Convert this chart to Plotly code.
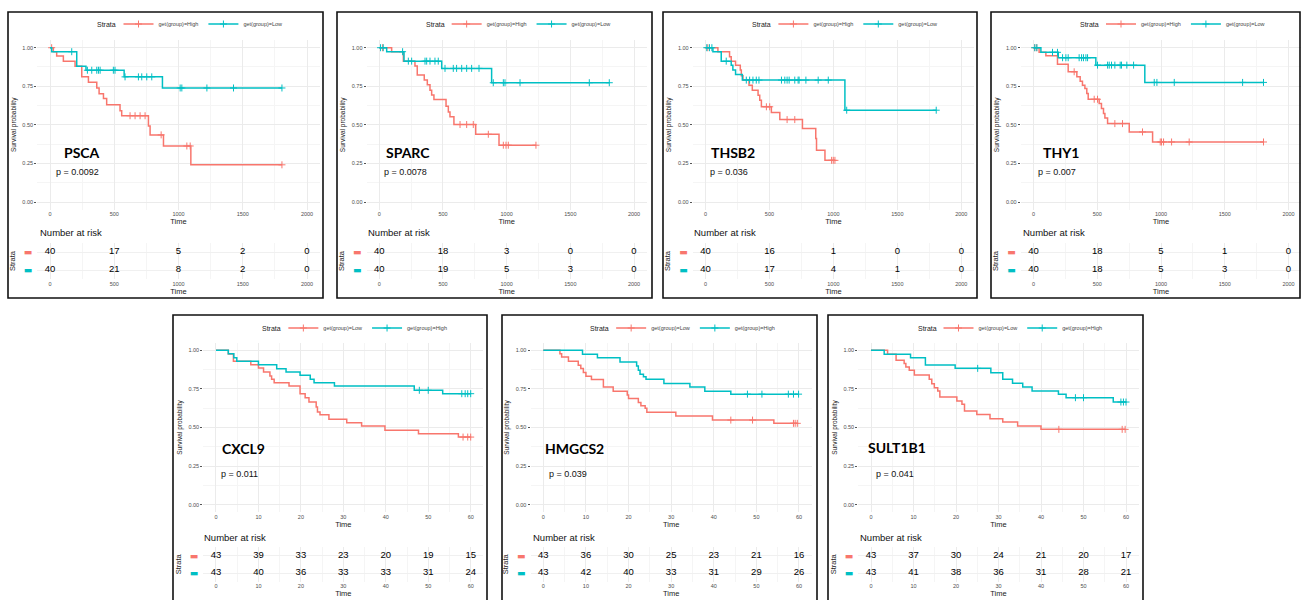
import plotly.graph_objects as go

W, H = 1302, 600
RED, CYAN = "#F8766D", "#00BFC4"
TXT = "#4D4D4D"
FONT = "Liberation Sans"

# ---------------- data ----------------
# top row: time in days, red = get(group)=High, cyan = get(group)=Low
days_ticks = [0, 500, 1000, 1500, 2000]
month_ticks = [0, 10, 20, 30, 40, 50, 60]

psca_high_t = [26, 52, 104, 195, 247, 299, 364, 382, 416, 441, 545, 558, 766, 779, 883, 1096]
psca_high_s = [0.974, 0.946, 0.913, 0.880, 0.811, 0.776, 0.739, 0.702, 0.670, 0.630, 0.591, 0.559, 0.493, 0.435, 0.363, 0.241]
psca_high_c = [13, 623, 662, 701, 740, 865, 1065, 1091, 1805]
psca_low_t = [13, 208, 280, 577, 875]
psca_low_s = [0.974, 0.880, 0.854, 0.811, 0.739]
psca_low_c = [169, 291, 325, 364, 377, 390, 493, 506, 584, 688, 714, 753, 792, 1013, 1026, 1221, 1428, 1805]
psca_risk_high = [40, 17, 5, 2, 0]
psca_risk_low = [40, 21, 8, 2, 0]

sparc_high_t = [97, 189, 280, 298, 353, 377, 398, 411, 429, 524, 542, 555, 586, 757, 940]
sparc_high_s = [0.974, 0.913, 0.881, 0.823, 0.790, 0.760, 0.725, 0.693, 0.665, 0.621, 0.584, 0.552, 0.502, 0.439, 0.368]
sparc_high_c = [26, 634, 686, 738, 856, 974, 995, 1013, 1230]
sparc_low_t = [58, 194, 490, 882]
sparc_low_s = [0.974, 0.913, 0.866, 0.773]
sparc_low_c = [10, 31, 183, 228, 254, 359, 372, 398, 437, 463, 516, 581, 607, 647, 686, 725, 783, 895, 974, 987, 1105, 1649, 1806]
sparc_risk_high = [40, 18, 3, 0, 0]
sparc_risk_low = [40, 19, 5, 3, 0]

thsb2_high_t = [97, 188, 201, 235, 272, 280, 293, 340, 366, 411, 424, 437, 515, 581, 758, 862, 868, 934]
thsb2_high_s = [0.974, 0.942, 0.913, 0.887, 0.855, 0.818, 0.790, 0.757, 0.725, 0.692, 0.660, 0.617, 0.580, 0.534, 0.476, 0.411, 0.335, 0.270]
thsb2_high_c = [18, 476, 502, 638, 698, 986, 999, 1012]
thsb2_low_t = [58, 123, 201, 214, 235, 288, 1090]
thsb2_low_s = [0.974, 0.913, 0.887, 0.855, 0.827, 0.790, 0.595]
thsb2_low_c = [10, 31, 50, 162, 319, 345, 371, 397, 418, 594, 620, 638, 654, 698, 724, 732, 785, 881, 960, 1104, 1804]
thsb2_risk_high = [40, 16, 1, 0, 0]
thsb2_risk_low = [40, 17, 4, 1, 0]

thy1_high_t = [44, 97, 188, 272, 340, 366, 384, 403, 418, 429, 515, 533, 549, 560, 581, 751, 934]
thy1_high_s = [0.970, 0.948, 0.892, 0.844, 0.812, 0.783, 0.757, 0.736, 0.703, 0.666, 0.638, 0.606, 0.573, 0.545, 0.508, 0.454, 0.389]
thy1_high_c = [10, 26, 319, 476, 502, 638, 698, 855, 994, 1004, 1020, 1083, 1221, 1804]
thy1_low_t = [58, 194, 489, 873]
thy1_low_s = [0.970, 0.935, 0.887, 0.775]
thy1_low_c = [10, 26, 149, 188, 228, 254, 272, 358, 377, 392, 411, 424, 502, 581, 594, 612, 638, 680, 690, 732, 785, 947, 968, 1104, 1640, 1804]
thy1_risk_high = [40, 18, 5, 1, 0]
thy1_risk_low = [40, 18, 5, 3, 0]

# bottom row: time in months, red = get(group)=Low, cyan = get(group)=High
cxcl9_low_t = [2.9, 4.1, 8.2, 10.0, 11.2, 12.7, 13.1, 13.7, 17.2, 19.8, 21.0, 21.9, 23.6, 23.9, 24.5, 26.6, 30.8, 34.3, 39.8, 47.7, 57.1]
cxcl9_low_s = [0.976, 0.929, 0.907, 0.886, 0.860, 0.834, 0.812, 0.790, 0.769, 0.719, 0.693, 0.665, 0.633, 0.600, 0.583, 0.553, 0.531, 0.510, 0.482, 0.460, 0.438]
cxcl9_low_c = [58.2, 59.3, 60.0]
cxcl9_high_t = [2.9, 4.2, 4.9, 10.0, 14.3, 16.5, 19.8, 22.2, 23.1, 27.9, 46.7, 53.4]
cxcl9_high_s = [0.977, 0.951, 0.929, 0.907, 0.881, 0.860, 0.838, 0.812, 0.790, 0.769, 0.741, 0.719]
cxcl9_high_c = [47.9, 50.0, 57.9, 58.7, 59.3, 60.0]
cxcl9_risk_low = [43, 39, 33, 23, 20, 19, 15]
cxcl9_risk_high = [43, 40, 36, 33, 33, 31, 24]

hmgcs2_low_t = [3.9, 4.3, 5.9, 8.2, 8.8, 9.4, 10.0, 11.3, 14.1, 16.4, 19.7, 20.0, 22.3, 22.9, 23.9, 24.3, 31.1, 39.7, 54.1]
hmgcs2_low_s = [0.978, 0.957, 0.929, 0.903, 0.882, 0.856, 0.832, 0.811, 0.763, 0.735, 0.710, 0.688, 0.662, 0.641, 0.624, 0.598, 0.574, 0.548, 0.527]
hmgcs2_low_c = [44.0, 49.1, 58.7, 59.1, 59.6]
hmgcs2_high_t = [9.2, 12.7, 18.0, 21.9, 22.3, 22.7, 23.5, 24.1, 28.3, 34.4, 37.9, 44.0]
hmgcs2_high_s = [0.974, 0.951, 0.925, 0.899, 0.871, 0.845, 0.828, 0.813, 0.785, 0.763, 0.735, 0.716]
hmgcs2_high_c = [47.9, 51.3, 57.5, 58.7, 59.9]
hmgcs2_risk_low = [43, 36, 30, 25, 23, 21, 16]
hmgcs2_risk_high = [43, 42, 40, 33, 31, 29, 26]

sult1b1_low_t = [3.9, 5.9, 7.8, 8.2, 9.0, 10.2, 13.7, 14.3, 14.9, 15.7, 16.2, 20.2, 21.4, 22.0, 24.9, 28.0, 31.0, 34.5, 40.0]
sult1b1_low_s = [0.974, 0.935, 0.914, 0.892, 0.870, 0.840, 0.812, 0.784, 0.758, 0.736, 0.698, 0.672, 0.650, 0.607, 0.585, 0.557, 0.536, 0.510, 0.488]
sult1b1_low_c = [44.2, 59.1, 59.8]
sult1b1_high_t = [3.1, 9.3, 12.8, 19.8, 28.2, 31.0, 33.3, 35.7, 37.9, 44.1, 45.9, 57.0]
sult1b1_high_s = [0.974, 0.952, 0.905, 0.883, 0.855, 0.812, 0.786, 0.762, 0.736, 0.715, 0.693, 0.665]
sult1b1_high_c = [25.1, 48.1, 50.0, 58.8, 59.4, 60.0]
sult1b1_risk_low = [43, 37, 30, 24, 21, 20, 17]
sult1b1_risk_high = [43, 41, 38, 36, 31, 28, 21]

# ---------------- panel definitions (data + layout geometry in px) ----------------
TOP = dict(ticks=days_ticks, minor=250, ytop=47.7, ybot=202.0, rows=(252.0, 270.0), leg_y=24, nar_y=233)
BOT = dict(ticks=month_ticks, minor=5, ytop=350.3, ybot=504.7, rows=(555.5, 573.0), leg_y=328, nar_y=537)

panels = [
    dict(gene="PSCA", p="p = 0.0092", row=TOP,
         red=("get(group)=High", psca_high_t, psca_high_s, psca_high_c, psca_risk_high),
         cyan=("get(group)=Low", psca_low_t, psca_low_s, psca_low_c, psca_risk_low),
         box=(8, 12, 323, 298), xpx=(50.0, 307.0), nar_x=38, gl=(82, 152), pl=(77, 172)),
    dict(gene="SPARC", p="p = 0.0078", row=TOP,
         red=("get(group)=High", sparc_high_t, sparc_high_s, sparc_high_c, sparc_risk_high),
         cyan=("get(group)=Low", sparc_low_t, sparc_low_s, sparc_low_c, sparc_risk_low),
         box=(337, 12, 652, 298), xpx=(379.3, 634.0), nar_x=366, gl=(408, 152), pl=(405, 172)),
    dict(gene="THSB2", p="p = 0.036", row=TOP,
         red=("get(group)=High", thsb2_high_t, thsb2_high_s, thsb2_high_c, thsb2_risk_high),
         cyan=("get(group)=Low", thsb2_low_t, thsb2_low_s, thsb2_low_c, thsb2_risk_low),
         box=(663, 12, 977, 298), xpx=(705.5, 961.3), nar_x=692, gl=(733, 152), pl=(729, 172)),
    dict(gene="THY1", p="p = 0.007", row=TOP,
         red=("get(group)=High", thy1_high_t, thy1_high_s, thy1_high_c, thy1_risk_high),
         cyan=("get(group)=Low", thy1_low_t, thy1_low_s, thy1_low_c, thy1_risk_low),
         box=(991, 12, 1300, 298), xpx=(1033.5, 1288.5), nar_x=1021, gl=(1061, 152), pl=(1057, 172)),
    dict(gene="CXCL9", p="p = 0.011", row=BOT,
         red=("get(group)=Low", cxcl9_low_t, cxcl9_low_s, cxcl9_low_c, cxcl9_risk_low),
         cyan=("get(group)=High", cxcl9_high_t, cxcl9_high_s, cxcl9_high_c, cxcl9_risk_high),
         box=(173, 315, 487, 606), xpx=(216.0, 470.7), nar_x=202, gl=(243, 448), pl=(239, 474)),
    dict(gene="HMGCS2", p="p = 0.039", row=BOT,
         red=("get(group)=Low", hmgcs2_low_t, hmgcs2_low_s, hmgcs2_low_c, hmgcs2_risk_low),
         cyan=("get(group)=High", hmgcs2_high_t, hmgcs2_high_s, hmgcs2_high_c, hmgcs2_risk_high),
         box=(502, 315, 817, 606), xpx=(543.3, 799.0), nar_x=531, gl=(574, 448), pl=(568, 474)),
    dict(gene="SULT1B1", p="p = 0.041", row=BOT,
         red=("get(group)=Low", sult1b1_low_t, sult1b1_low_s, sult1b1_low_c, sult1b1_risk_low),
         cyan=("get(group)=High", sult1b1_high_t, sult1b1_high_s, sult1b1_high_c, sult1b1_risk_high),
         box=(828, 315, 1143, 606), xpx=(871.0, 1126.0), nar_x=858, gl=(897, 447), pl=(895, 474)),
]


def fx(px):
    return px / W


def fy(py):
    return 1 - py / H


def step_level(times, surv, t):
    level = 1.0
    for ti, si in zip(times, surv):
        if ti <= t:
            level = si
    return level


fig = go.Figure()
layout = dict(shapes=[], annotations=[])

for i, pn in enumerate(panels):
    row = pn["row"]
    ticks = row["ticks"]
    xmax = ticks[-1]
    k_km, k_rk = 2 * i + 1, 2 * i + 2
    xa_km = "x" if k_km == 1 else f"x{k_km}"
    ya_km = "y" if k_km == 1 else f"y{k_km}"
    xa_rk, ya_rk = f"x{k_rk}", f"y{k_rk}"
    leg = "legend" if i == 0 else f"legend{i + 1}"

    x0px, x1px = pn["xpx"]
    pad = 0.05 * (x1px - x0px)
    xdom = [fx(x0px - pad), fx(x1px + pad)]
    xrange = [-0.05 * xmax, 1.05 * xmax]
    ypad = 0.05 * (row["ybot"] - row["ytop"])
    ydom = [fy(row["ybot"] + ypad), fy(row["ytop"] - ypad)]
    r1, r2 = row["rows"]
    gap = r2 - r1
    rdom = [fy(r2 + gap / 2), fy(r1 - gap / 2)]

    for key, col, ylev in (("red", RED, 2), ("cyan", CYAN, 1)):
        name, t, s, c, risk = pn[key]
        end = max(t + c)
        fig.add_trace(go.Scatter(
            x=[0] + t + [end], y=[1.0] + s + [s[-1]], mode="lines",
            line=dict(color=col, width=1.5, shape="hv"),
            xaxis=xa_km, yaxis=ya_km, showlegend=False, hoverinfo="skip"))
        fig.add_trace(go.Scatter(
            x=c, y=[step_level(t, s, ci) for ci in c], mode="markers",
            marker=dict(symbol="cross-thin", size=5, line=dict(color=col, width=1.0)),
            xaxis=xa_km, yaxis=ya_km, showlegend=False, hoverinfo="skip"))
        # legend entry
        fig.add_trace(go.Scatter(
            x=[None], y=[None], mode="lines+markers", name=name,
            line=dict(color=col, width=1.5),
            marker=dict(symbol="cross-thin", size=5, line=dict(color=col, width=1.0)),
            xaxis=xa_km, yaxis=ya_km, legend=leg, showlegend=True))
        # risk table numbers
        fig.add_trace(go.Scatter(
            x=ticks, y=[ylev] * len(ticks), mode="text", text=[str(v) for v in risk],
            textfont=dict(size=9.5, color="#000000", family=FONT),
            xaxis=xa_rk, yaxis=ya_rk, showlegend=False, hoverinfo="skip"))

    xcommon = dict(range=xrange, domain=xdom, tickvals=ticks, showgrid=True,
                   gridcolor="#EBEBEB", gridwidth=0.8, zeroline=False, ticks="",
                   tickfont=dict(size=5.5, color=TXT, family=FONT),
                   minor=dict(dtick=row["minor"], tick0=0, showgrid=True, gridcolor="#F5F5F5", gridwidth=0.6),
                   title=dict(text="Time", font=dict(size=7.5, color="#222222", family=FONT), standoff=1))
    layout["xaxis" if k_km == 1 else f"xaxis{k_km}"] = dict(anchor=ya_km, **xcommon)
    layout[f"xaxis{k_rk}"] = dict(anchor=ya_rk, **xcommon)
    layout["yaxis" if k_km == 1 else f"yaxis{k_km}"] = dict(
        anchor=xa_km, domain=ydom, range=[-0.05, 1.05], tickvals=[0, 0.25, 0.5, 0.75, 1.0],
        tickformat=".2f", ticks="outside", ticklen=2, tickcolor="#555555", tickwidth=0.8,
        tickfont=dict(size=5.5, color=TXT, family=FONT), showgrid=True, gridcolor="#EBEBEB",
        gridwidth=0.8, zeroline=False,
        minor=dict(dtick=0.125, tick0=0, showgrid=True, gridcolor="#F5F5F5", gridwidth=0.6),
        title=dict(text="Survival probability", font=dict(size=6.5, color="#222222", family=FONT), standoff=5))
    layout[f"yaxis{k_rk}"] = dict(
        anchor=xa_rk, domain=rdom, range=[0.5, 2.5], tickvals=[1, 2],
        ticktext=[f"<span style='color:{CYAN}'>▬</span>", f"<span style='color:{RED}'>▬</span>"],
        ticks="", ticklabelstandoff=4, tickfont=dict(size=9, family="DejaVu Sans"), showgrid=True,
        gridcolor="#F0F0F0", zeroline=False,
        title=dict(text="Strata", font=dict(size=7.5, color="#222222", family=FONT), standoff=7))

    lc = (x0px - pad + x1px + pad) / 2
    layout[leg] = dict(
        orientation="h", x=fx(lc - 60), y=fy(row["leg_y"]), xanchor="left", yanchor="middle",
        font=dict(size=5.5, color="#444444", family=FONT), bgcolor="rgba(0,0,0,0)",
        itemwidth=30, tracegroupgap=0, traceorder="normal")
    layout["annotations"].append(dict(
        text="Strata", xref="paper", yref="paper", x=fx(lc - 60), y=fy(row["leg_y"]),
        xanchor="right", yanchor="middle", showarrow=False,
        font=dict(size=7, color="#222222", family=FONT)))

    L, T, R, B = pn["box"]
    layout["shapes"].append(dict(type="rect", xref="paper", yref="paper",
                                 x0=fx(L), x1=fx(R), y0=fy(B), y1=fy(T),
                                 line=dict(color="#111111", width=1.6), layer="above"))
    layout["annotations"].append(dict(
        text="Number at risk", xref="paper", yref="paper", x=fx(pn["nar_x"]), y=fy(row["nar_y"]),
        xanchor="left", yanchor="middle", showarrow=False,
        font=dict(size=9.5, color="#111111", family=FONT)))
    layout["annotations"].append(dict(
        text=f"<b>{pn['gene']}</b>", xref="paper", yref="paper", x=fx(pn["gl"][0]), y=fy(pn["gl"][1]),
        xanchor="center", yanchor="middle", showarrow=False,
        font=dict(size=14, color="#000000", family="Lato")))
    layout["annotations"].append(dict(
        text=pn["p"], xref="paper", yref="paper", x=fx(pn["pl"][0]), y=fy(pn["pl"][1]),
        xanchor="center", yanchor="middle", showarrow=False,
        font=dict(size=9, color="#111111", family=FONT)))

fig.update_layout(
    width=W, height=H, margin=dict(l=0, r=0, t=0, b=0),
    paper_bgcolor="white", plot_bgcolor="white", showlegend=True,
    **layout)

fig.write_html("out.html", config={"displayModeBar": False},
               post_script="document.body.style.margin='0';")
